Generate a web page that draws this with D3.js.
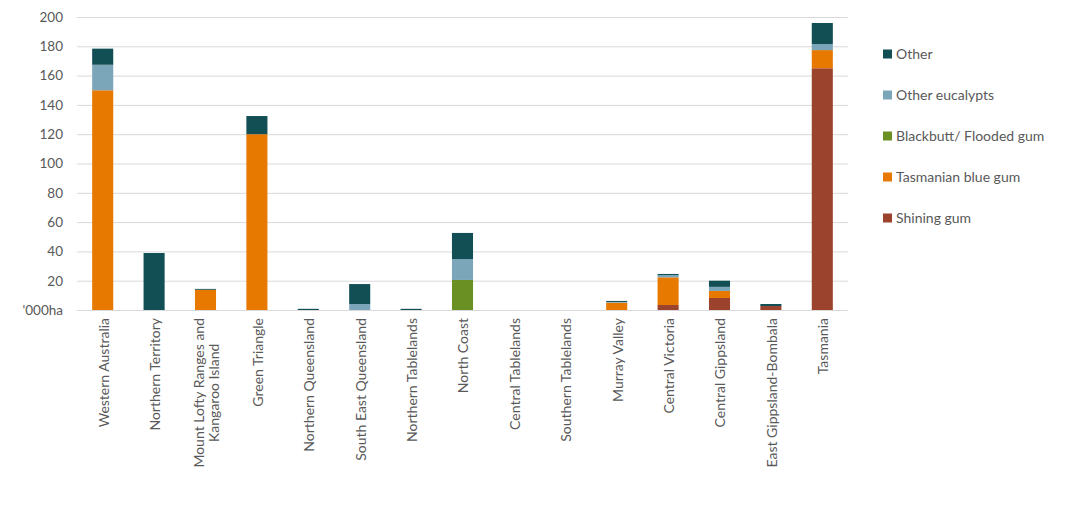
<!DOCTYPE html>
<html>
<head>
<meta charset="utf-8">
<script src="https://cdn.jsdelivr.net/npm/d3@7"></script>
<style>
  body { margin: 0; background: #fff; }
  text { font-family: Lato, "Open Sans", sans-serif; fill: #595959; }
</style>
</head>
<body>
<div id="chart"></div>
<script>
let regions = [
    "Western Australia", "Northern Territory", "Mount Lofty Ranges and Kangaroo Island",
    "Green Triangle", "Northern Queensland", "South East Queensland", "Northern Tablelands",
    "North Coast", "Central Tablelands", "Southern Tablelands", "Murray Valley",
    "Central Victoria", "Central Gippsland", "East Gippsland-Bombala", "Tasmania"
];

// '000 ha, one value per region
let shiningGum    = [0, 0, 0, 0, 0, 0, 0, 0, 0, 0, 0, 3.4, 8.2, 2.7, 165];
let tasBlueGum    = [150, 0, 13.8, 120, 0, 0, 0, 0, 0, 0, 5, 18.9, 4.8, 0, 12.4];
let blackbutt     = [0, 0, 0, 0, 0, 0, 0, 20.5, 0, 0, 0, 0, 0, 0, 0];
let otherEuc      = [17.4, 0, 0, 0, 0, 4.1, 0, 14.3, 0, 0, 0.5, 1.6, 2.8, 0, 4.1];
let other         = [11, 38.9, 0.6, 12.4, 0.8, 13.6, 0.8, 17.8, 0, 0, 0.7, 0.7, 4.2, 1.4, 14.4];

let seriesNames = ["Shining gum", "Tasmanian blue gum", "Blackbutt/ Flooded gum", "Other eucalypts", "Other"];
let seriesColors = ["#9c432d", "#e87900", "#6a8f23", "#7ba6ba", "#124f55"];
let yTicks = [0, 20, 40, 60, 80, 100, 120, 140, 160, 180, 200];

let rows = regions.map((r, i) => ({
    region: r,
    "Shining gum": shiningGum[i],
    "Tasmanian blue gum": tasBlueGum[i],
    "Blackbutt/ Flooded gum": blackbutt[i],
    "Other eucalypts": otherEuc[i],
    "Other": other[i]
}));

let width = 1087;
let height = 518;
let plotLeft = 77, plotRight = 848, plotTop = 17, plotBottom = 310;

let svg = d3.select("#chart")
    .append("svg")
    .attr("width", width)
    .attr("height", height);

let x = d3.scaleBand()
    .domain(regions)
    .range([plotLeft, plotRight])
    .paddingInner(0.59)
    .paddingOuter(0.295);

let y = d3.scaleLinear()
    .domain([0, 200])
    .range([plotBottom, plotTop]);

let color = d3.scaleOrdinal()
    .domain(seriesNames)
    .range(seriesColors);

// gridlines + y labels
let yAxis = d3.axisLeft(y)
    .tickValues(yTicks)
    .tickSize(-(plotRight - plotLeft))
    .tickPadding(14)
    .tickFormat(d => d === 0 ? "'000ha" : d);

svg.append("g")
    .attr("class", "axis y-axis")
    .attr("transform", "translate(" + plotLeft + ",0)")
    .call(yAxis)
    .call(g => g.select(".domain").remove())
    .call(g => g.selectAll("line").attr("stroke", "#d9d9d9").attr("stroke-width", 1))
    .call(g => g.selectAll("text").attr("font-size", 13.5).attr("fill", "#595959"));

let stack = d3.stack().keys(seriesNames);
let stacked = stack(rows);

svg.append("g")
    .selectAll("g")
    .data(stacked)
    .enter()
    .append("g")
    .attr("fill", d => color(d.key))
    .selectAll("rect")
    .data(d => d)
    .enter()
    .append("rect")
    .attr("x", d => x(d.data.region))
    .attr("y", d => y(d[1]))
    .attr("width", x.bandwidth())
    .attr("height", d => y(d[0]) - y(d[1]));

// category labels, rotated and wrapped
let xAxis = d3.axisBottom(x).tickSize(0).tickFormat("");
let xg = svg.append("g")
    .attr("class", "axis x-axis")
    .attr("transform", "translate(0," + plotBottom + ")")
    .call(xAxis);
xg.select(".domain").remove();

let labelStart = 8;
let maxLine = 160;

xg.selectAll(".tick").each(function(name) {
    let tick = d3.select(this);
    let label = tick.append("text")
        .attr("transform", "translate(1,0) rotate(-90)")
        .attr("font-size", 14)
        .attr("fill", "#595959");

    // greedy wrap
    let words = name.split(" ");
    let lines = [];
    let current = [];
    let probe = label.append("tspan");
    words.forEach(w => {
        let test = current.concat([w]).join(" ");
        probe.text(test);
        if (probe.node().getComputedTextLength() > maxLine && current.length) {
            lines.push(current.join(" "));
            current = [w];
        } else {
            current.push(w);
        }
    });
    lines.push(current.join(" "));
    probe.remove();

    let widths = lines.map(l => {
        let t = label.append("tspan").text(l);
        let w = t.node().getComputedTextLength();
        t.remove();
        return w;
    });
    let longest = d3.max(widths);
    let lineH = 15;
    let mid = -(labelStart + longest / 2);

    lines.forEach((l, i) => {
        label.append("tspan")
            .attr("text-anchor", "middle")
            .attr("x", mid)
            .attr("y", (i - (lines.length - 1) / 2) * lineH)
            .attr("dy", "0.35em")
            .text(l);
    });
});

// legend
let legendOrder = seriesNames.slice().reverse();
let legend = svg.append("g")
    .attr("class", "legend")
    .attr("transform", "translate(883,54)");

let item = legend.selectAll("g")
    .data(legendOrder)
    .enter()
    .append("g")
    .attr("transform", (d, i) => "translate(0," + i * 41 + ")");

item.append("rect")
    .attr("x", 0)
    .attr("y", -4.5)
    .attr("width", 9)
    .attr("height", 9)
    .attr("fill", d => color(d));

item.append("text")
    .attr("x", 13)
    .attr("y", 0)
    .attr("dy", "0.35em")
    .attr("font-size", 14)
    .attr("fill", "#595959")
    .text(d => d);
</script>
</body>
</html>
